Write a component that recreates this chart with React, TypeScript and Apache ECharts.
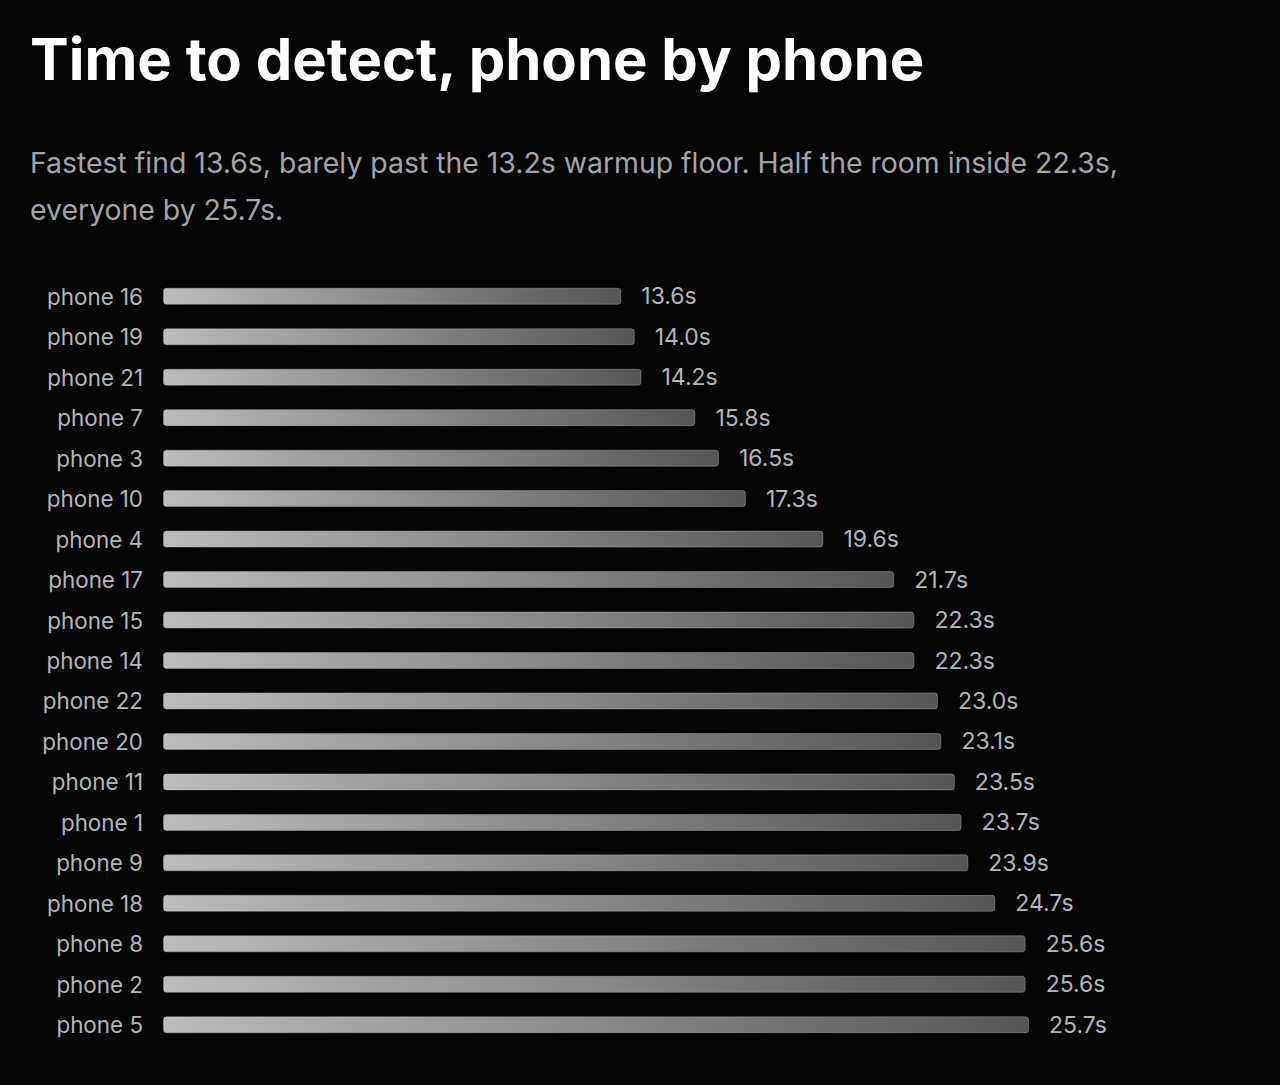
import React, { useEffect, useRef } from 'react';
import * as echarts from 'echarts';

const phones = [
  'phone 16', 'phone 19', 'phone 21', 'phone 7', 'phone 3', 'phone 10', 'phone 4',
  'phone 17', 'phone 15', 'phone 14', 'phone 22', 'phone 20', 'phone 11', 'phone 1',
  'phone 9', 'phone 18', 'phone 8', 'phone 2', 'phone 5',
];
const detectSeconds = [
  13.6, 14.0, 14.2, 15.8, 16.5, 17.3, 19.6, 21.7, 22.3, 22.3, 23.0, 23.1, 23.5, 23.7,
  23.9, 24.7, 25.6, 25.6, 25.7,
];

const titleText = 'Time to detect, phone by phone';
const subText =
  'Fastest find 13.6s, barely past the 13.2s warmup floor. Half the room inside 22.3s, everyone by 25.7s.';

const FONT = 'Inter, "Noto Sans", sans-serif';

export default function App() {
  const chartRef = useRef<HTMLDivElement>(null);

  useEffect(() => {
    document.body.style.margin = '0';
    document.body.style.background = '#050505';
    if (!chartRef.current) return;
    const chart = echarts.init(chartRef.current, undefined, { renderer: 'svg' });

    // each bar fades light -> dark across its own length
    const barFill = new echarts.graphic.LinearGradient(0, 0, 1, 0, [
      { offset: 0, color: '#bcbcbc' },
      { offset: 1, color: '#555555' },
    ]);

    chart.setOption({
      animation: false,
      backgroundColor: '#050505',
      title: {
        text: titleText,
        subtext: subText,
        left: 25,
        top: 18,
        itemGap: 44,
        textStyle: {
          color: '#ffffff',
          fontFamily: FONT,
          fontSize: 58,
          fontWeight: 'bold',
          lineHeight: 72,
        },
        subtextStyle: {
          color: '#a3a3ab',
          fontFamily: FONT,
          fontSize: 28.4,
          lineHeight: 47,
          width: 1120,
          overflow: 'break',
        },
      },
      grid: { left: 163, right: 251, top: 276, bottom: 40, containLabel: false },
      xAxis: {
        type: 'value',
        min: 0,
        max: 'dataMax',
        show: false,
      },
      yAxis: {
        type: 'category',
        data: phones,
        inverse: true,
        axisLine: { show: false },
        axisTick: { show: false },
        axisLabel: {
          color: '#b4b4bc',
          fontFamily: FONT,
          fontSize: 22.4,
          margin: 20,
        },
      },
      series: [
        {
          type: 'bar',
          data: detectSeconds,
          barWidth: 17,
          itemStyle: {
            color: barFill,
            borderRadius: 3,
            borderColor: 'rgba(200,200,200,0.35)',
            borderWidth: 1,
          },
          label: {
            show: true,
            position: 'right',
            distance: 20,
            color: '#b4b4bc',
            fontFamily: FONT,
            fontSize: 23,
            formatter: (p: any) => `${Number(p.value).toFixed(1)}s`,
          },
        },
      ],
    });

    return () => chart.dispose();
  }, []);

  return <div ref={chartRef} style={{ width: 1280, height: 1085 }} />;
}
